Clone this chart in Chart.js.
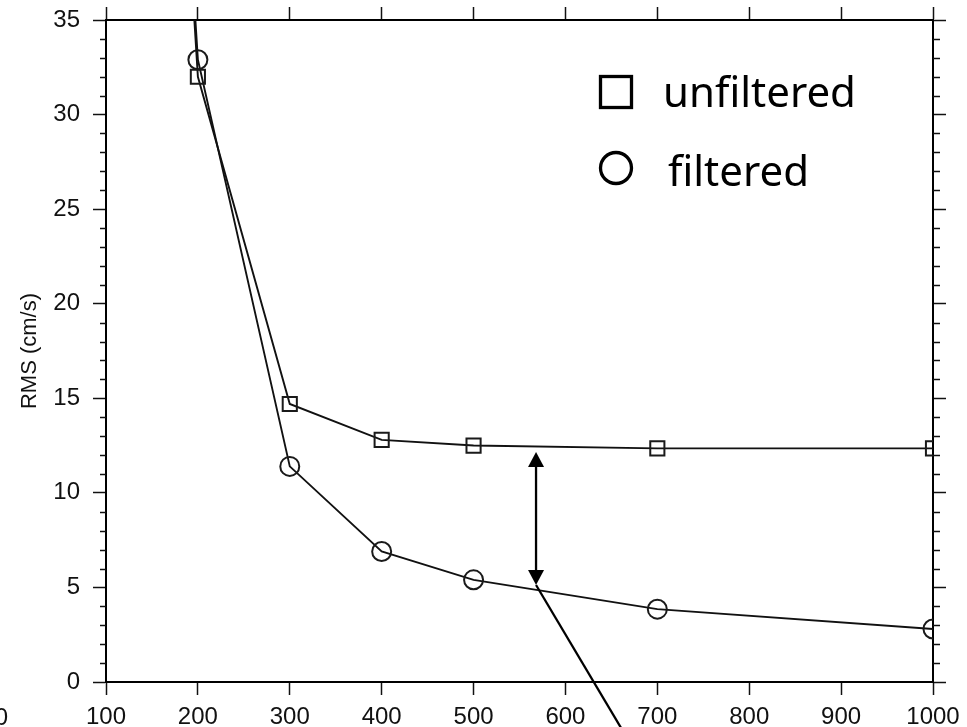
<!DOCTYPE html>
<html><head><meta charset="utf-8">
<script src="https://cdn.jsdelivr.net/npm/chart.js@4.4.1/dist/chart.umd.min.js"></script>
<style>html,body{margin:0;padding:0;background:#fff}#wrap{width:967px;height:727px;position:relative}</style>
</head><body><div id="wrap"><canvas id="c"></canvas></div>
<script>
// ---- data ----
const xValues = [100, 200, 300, 400, 500, 700, 1000];
const unfiltered = [110, 32.0, 14.7, 12.8, 12.5, 12.35, 12.35];
const filtered = [110, 32.9, 11.4, 6.9, 5.4, 3.85, 2.8];
const yMinorTicks = [1,2,3,4,6,7,8,9,11,12,13,14,16,17,18,19,21,22,23,24,26,27,28,29,31,32,33,34];
const legendLabels = ['unfiltered', 'filtered'];
const axisTitle = 'RMS (cm/s)';
const arrowX = 568, arrowTop = 12.16, arrowBottom = 5.13;
const pointerEnd = [681, -4.1];

const tickFont = {family: "'Liberation Sans', Arial, sans-serif", size: 24};
const legendFont = "42px 'Comic Sans MS', 'Noto Sans', sans-serif";

const overlay = {
  id: 'overlay',
  afterDatasetsDraw(chart) {
    const ctx = chart.ctx, xs = chart.scales.x, ys = chart.scales.y;
    ctx.save();
    ctx.strokeStyle = '#000'; ctx.fillStyle = '#000'; ctx.lineWidth = 2.3;
    const ax = xs.getPixelForValue(arrowX);
    const ty = ys.getPixelForValue(arrowTop), by = ys.getPixelForValue(arrowBottom);
    const hl = 15, hw = 8;
    ctx.beginPath(); ctx.moveTo(ax, ty + hl - 1); ctx.lineTo(ax, by - hl + 1); ctx.stroke();
    ctx.beginPath(); ctx.moveTo(ax, ty); ctx.lineTo(ax - hw, ty + hl); ctx.lineTo(ax + hw, ty + hl); ctx.closePath(); ctx.fill();
    ctx.beginPath(); ctx.moveTo(ax, by); ctx.lineTo(ax - hw, by - hl); ctx.lineTo(ax + hw, by - hl); ctx.closePath(); ctx.fill();
    ctx.beginPath(); ctx.moveTo(ax, by);
    ctx.lineTo(xs.getPixelForValue(pointerEnd[0]), ys.getPixelForValue(pointerEnd[1])); ctx.stroke();
    ctx.restore();
  },
  afterDraw(chart) {
    const ctx = chart.ctx, ys = chart.scales.y, area = chart.chartArea;
    ctx.save();
    // minor ticks
    ctx.strokeStyle = '#111'; ctx.lineWidth = 1.5;
    yMinorTicks.forEach(v => {
      const py = Math.round(ys.getPixelForValue(v)) + 0.5;
      ctx.beginPath(); ctx.moveTo(area.left - 6, py); ctx.lineTo(area.left, py); ctx.stroke();
      ctx.beginPath(); ctx.moveTo(area.right, py); ctx.lineTo(area.right + 7, py); ctx.stroke();
    });
    // legend
    ctx.strokeStyle = '#000'; ctx.fillStyle = '#000'; ctx.lineWidth = 3.3;
    ctx.strokeRect(600.5, 76.5, 31, 31);
    ctx.beginPath(); ctx.arc(616, 168, 15.5, 0, Math.PI * 2); ctx.stroke();
    ctx.font = legendFont; ctx.textAlign = 'left'; ctx.textBaseline = 'alphabetic';
    ctx.fillText(legendLabels[0], 663, 107);
    ctx.fillText(legendLabels[1], 668, 186);
    // stray cropped label at far left
    ctx.font = "24px 'Liberation Sans', Arial, sans-serif"; ctx.fillStyle = '#111';
    ctx.textAlign = 'right'; ctx.fillText('0', 8, 725);
    ctx.restore();
  }
};

const gridCommon = {drawOnChartArea: false, tickLength: 13, tickColor: '#111', tickWidth: 1.5};
const borderCommon = {color: '#000', width: 2};
const plainLabel = v => String(v);
function noPad(s) { s.paddingTop = 0; s.paddingBottom = 0; s.paddingLeft = 0; s.paddingRight = 0; }

new Chart(document.getElementById('c'), {
  type: 'line',
  data: {
    datasets: [
      {label: legendLabels[0], data: xValues.map((x, i) => ({x, y: unfiltered[i]})),
       borderColor: '#111', borderWidth: 1.9, pointStyle: 'rect', pointRadius: 10,
       pointBorderWidth: 2, pointBorderColor: '#1a1a1a', pointBackgroundColor: 'rgba(0,0,0,0)', tension: 0, fill: false, clip: 0},
      {label: legendLabels[1], data: xValues.map((x, i) => ({x, y: filtered[i]})),
       borderColor: '#111', borderWidth: 1.9, pointStyle: 'circle', pointRadius: 9.5,
       pointBorderWidth: 2, pointBorderColor: '#1a1a1a', pointBackgroundColor: 'rgba(0,0,0,0)', tension: 0, fill: false, clip: 0}
    ]
  },
  options: {
    responsive: true, maintainAspectRatio: false, animation: false,
    layout: {padding: 0, autoPadding: false},
    plugins: {legend: {display: false}, tooltip: {enabled: false}},
    scales: {
      x: {type: 'linear', position: 'bottom', min: 100, max: 1000,
          ticks: {stepSize: 100, font: tickFont, color: '#111', padding: 8, maxRotation: 0, autoSkip: false, callback: plainLabel},
          grid: gridCommon, border: borderCommon, afterFit(s) { s.height = 45; noPad(s); }},
      x2: {type: 'linear', position: 'top', min: 100, max: 1000,
          ticks: {stepSize: 100, display: false},
          grid: gridCommon, border: borderCommon, afterFit(s) { s.height = 20; noPad(s); }},
      y: {type: 'linear', position: 'left', min: 0, max: 35,
          ticks: {stepSize: 5, font: tickFont, color: '#111', padding: 13, callback: plainLabel},
          title: {display: true, text: axisTitle, color: '#111', font: {family: "'Liberation Sans', Arial, sans-serif", size: 22}, padding: {top: 17, bottom: 0}},
          grid: gridCommon, border: borderCommon, afterFit(s) { s.width = 106; noPad(s); }},
      y2: {type: 'linear', position: 'right', min: 0, max: 35,
          ticks: {stepSize: 5, display: false},
          grid: gridCommon, border: borderCommon, afterFit(s) { s.width = 34; noPad(s); }}
    }
  },
  plugins: [overlay]
});
</script>
</body></html>
